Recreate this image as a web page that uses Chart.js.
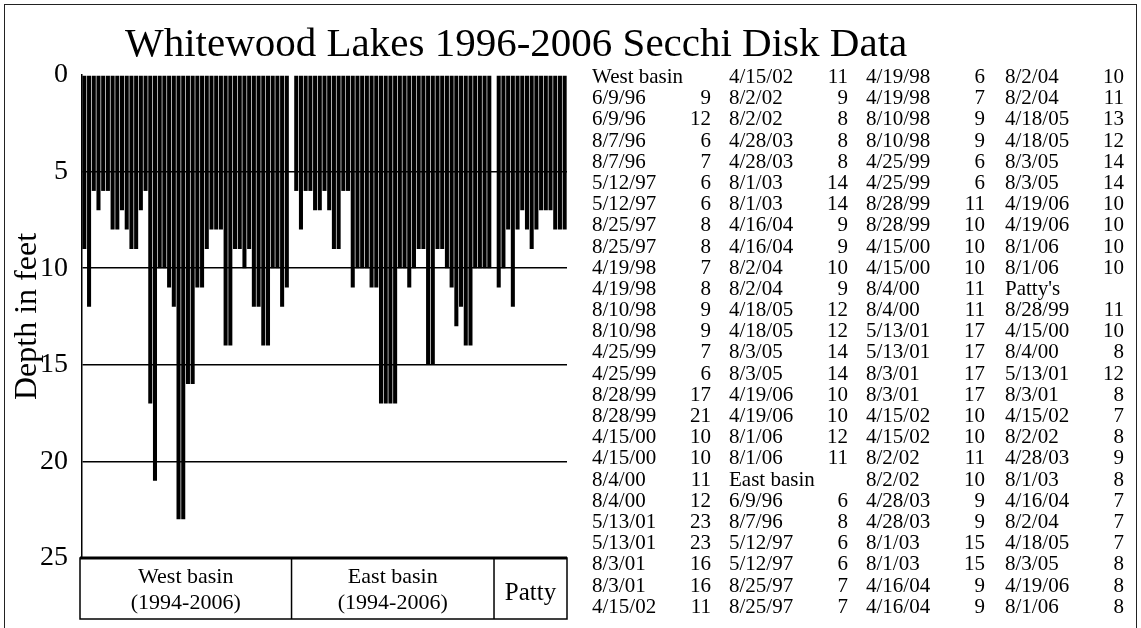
<!DOCTYPE html>
<html>
<head>
<meta charset="utf-8">
<script src="https://cdn.jsdelivr.net/npm/chart.js@4.4.0/dist/chart.umd.min.js"></script>
<style>
  html, body { margin: 0; padding: 0; background: #fff; }
  #wrap { position: relative; width: 1141px; height: 628px; overflow: hidden;
          font-family: 'Liberation Serif', 'Times New Roman', serif; color: #000; }
  #frame { position: absolute; left: 4px; top: 4px; width: 1133px; height: 640px;
           border: 1.5px solid #222; box-sizing: border-box; }
  #title { position: absolute; left: 125px; top: 20px; font-size: 41px; line-height: 44px; white-space: nowrap; }
  #chart { position: absolute; left: 0; top: 0; }
  .col { position: absolute; top: 66px; width: 119px; font-size: 21px; line-height: 21.2px; }
  .row { display: flex; justify-content: space-between; white-space: nowrap; height: 21.2px; }
</style>
</head>
<body>
<div id="wrap">
  <div id="frame"></div>
  <canvas id="chart" width="1141" height="628"></canvas>
  <div id="title">Whitewood Lakes 1996-2006 Secchi Disk Data</div>
  <div id="table"></div>
</div>
<script>
// --- data ---
const westDates = ['6/9/96','6/9/96','8/7/96','8/7/96','5/12/97','5/12/97','8/25/97','8/25/97',
  '4/19/98','4/19/98','8/10/98','8/10/98','4/25/99','4/25/99','8/28/99','8/28/99',
  '4/15/00','4/15/00','8/4/00','8/4/00','5/13/01','5/13/01','8/3/01','8/3/01',
  '4/15/02','4/15/02','8/2/02','8/2/02','4/28/03','4/28/03','8/1/03','8/1/03',
  '4/16/04','4/16/04','8/2/04','8/2/04','4/18/05','4/18/05','8/3/05','8/3/05',
  '4/19/06','4/19/06','8/1/06','8/1/06'];
const westDepths = [9,12,6,7,6,6,8,8,7,8,9,9,7,6,17,21,10,10,11,12,23,23,16,16,
  11,11,9,8,8,8,14,14,9,9,10,9,12,12,14,14,10,10,12,11];

const eastDates = ['6/9/96','8/7/96','5/12/97','5/12/97','8/25/97','8/25/97',
  '4/19/98','4/19/98','8/10/98','8/10/98','4/25/99','4/25/99','8/28/99','8/28/99',
  '4/15/00','4/15/00','8/4/00','8/4/00','5/13/01','5/13/01','8/3/01','8/3/01',
  '4/15/02','4/15/02','8/2/02','8/2/02','4/28/03','4/28/03','8/1/03','8/1/03',
  '4/16/04','4/16/04','8/2/04','8/2/04','4/18/05','4/18/05','8/3/05','8/3/05',
  '4/19/06','4/19/06','8/1/06','8/1/06'];
const eastDepths = [6,8,6,6,7,7,6,7,9,9,6,6,11,10,10,10,11,11,17,17,17,17,
  10,10,11,10,9,9,15,15,9,9,10,11,13,12,14,14,10,10,10,10];

const pattyDates = ['8/28/99','4/15/00','8/4/00','5/13/01','8/3/01','4/15/02','8/2/02',
  '4/28/03','8/1/03','4/16/04','8/2/04','4/18/05','8/3/05','4/19/06','8/1/06'];
const pattyDepths = [11,10,8,12,8,7,8,9,8,7,7,7,8,8,8];

const tableHeaders = ['West basin', 'East basin', "Patty's"];
const boxLabels = [['West basin', '(1994-2006)'], ['East basin', '(1994-2006)'], ['Patty']];
const yTicks = [0, 5, 10, 15, 20, 25];

// --- text table on the right, flowing down four columns ---
const rows = [];
[[westDates, westDepths], [eastDates, eastDepths], [pattyDates, pattyDepths]].forEach((g, i) => {
  rows.push([tableHeaders[i], '']);
  g[0].forEach((d, j) => rows.push([d, g[1][j]]));
});
const colLeft = [592, 729, 866, 1005];
const perCol = Math.ceil(rows.length / colLeft.length);
const table = document.getElementById('table');
colLeft.forEach((left, c) => {
  const col = document.createElement('div');
  col.className = 'col';
  col.style.left = left + 'px';
  rows.slice(c * perCol, (c + 1) * perCol).forEach(r => {
    const row = document.createElement('div');
    row.className = 'row';
    const a = document.createElement('span'); a.textContent = r[0];
    const b = document.createElement('span'); b.textContent = r[1];
    row.appendChild(a); row.appendChild(b);
    col.appendChild(row);
  });
  table.appendChild(col);
});

// --- chart ---
const labels = [...westDates, '', ...eastDates, '', ...pattyDates];
const depths = [...westDepths, null, ...eastDepths, null, ...pattyDepths];

// box with the basin names under the bars
const groupBox = {
  id: 'groupBox',
  afterDraw(chart) {
    const { ctx, chartArea: a, scales: { x } } = chart;
    const top = a.bottom, bottom = 619;
    const edges = [a.left - 2,
      x.getPixelForValue(westDepths.length),
      x.getPixelForValue(westDepths.length + 1 + eastDepths.length),
      a.right];
    ctx.save();
    ctx.strokeStyle = '#000';
    ctx.lineWidth = 1.5;
    ctx.strokeRect(edges[0], top, edges[3] - edges[0], bottom - top);
    ctx.lineWidth = 3;
    ctx.beginPath(); ctx.moveTo(edges[0], top); ctx.lineTo(edges[3], top); ctx.stroke();
    ctx.lineWidth = 1.5;
    ctx.beginPath();
    [edges[1], edges[2]].forEach(e => { ctx.moveTo(e, top); ctx.lineTo(e, bottom); });
    ctx.stroke();
    ctx.fillStyle = '#000';
    ctx.textAlign = 'center';
    ctx.textBaseline = 'middle';
    boxLabels.forEach((lines, i) => {
      const cx = (edges[i] + edges[i + 1]) / 2;
      if (lines.length === 1) {
        ctx.font = "25px 'Liberation Serif'";
        ctx.fillText(lines[0], cx, (top + bottom) / 2 + 5);
      } else {
        ctx.font = "22px 'Liberation Serif'";
        ctx.fillText(lines[0], cx, top + 19);
        ctx.fillText(lines[1], cx, top + 45);
      }
    });
    ctx.restore();
  }
};

new Chart(document.getElementById('chart'), {
  type: 'bar',
  data: {
    labels: labels,
    datasets: [{
      label: 'Depth',
      data: depths,
      backgroundColor: '#000',
      borderWidth: 0,
      barPercentage: 0.86,
      categoryPercentage: 1.0
    }]
  },
  options: {
    responsive: false,
    animation: false,
    layout: { padding: { left: 8, top: 75, right: 574, bottom: 70 } },
    plugins: { legend: { display: false }, title: { display: false }, tooltip: { enabled: false } },
    scales: {
      x: { display: false, offset: true },
      y: {
        reverse: true,
        min: 0,
        max: 25,
        afterBuildTicks: s => { s.ticks = yTicks.map(v => ({ value: v })); },
        afterFit: s => { s.width = 74; },
        ticks: { color: '#000', padding: 14, font: { family: 'Liberation Serif', size: 28 } },
        grid: {
          drawTicks: false,
          color: c => (c.tick && (c.tick.value === 0 || c.tick.value === 25)) ? 'rgba(0,0,0,0)' : '#000',
          lineWidth: 1.5
        },
        border: { display: true, color: '#000', width: 1.5 },
        title: {
          display: true,
          text: 'Depth in feet',
          color: '#000',
          padding: { top: 0, bottom: 0 },
          font: { family: 'Liberation Serif', size: 32 }
        }
      }
    }
  },
  plugins: [groupBox]
});
</script>
</body>
</html>
